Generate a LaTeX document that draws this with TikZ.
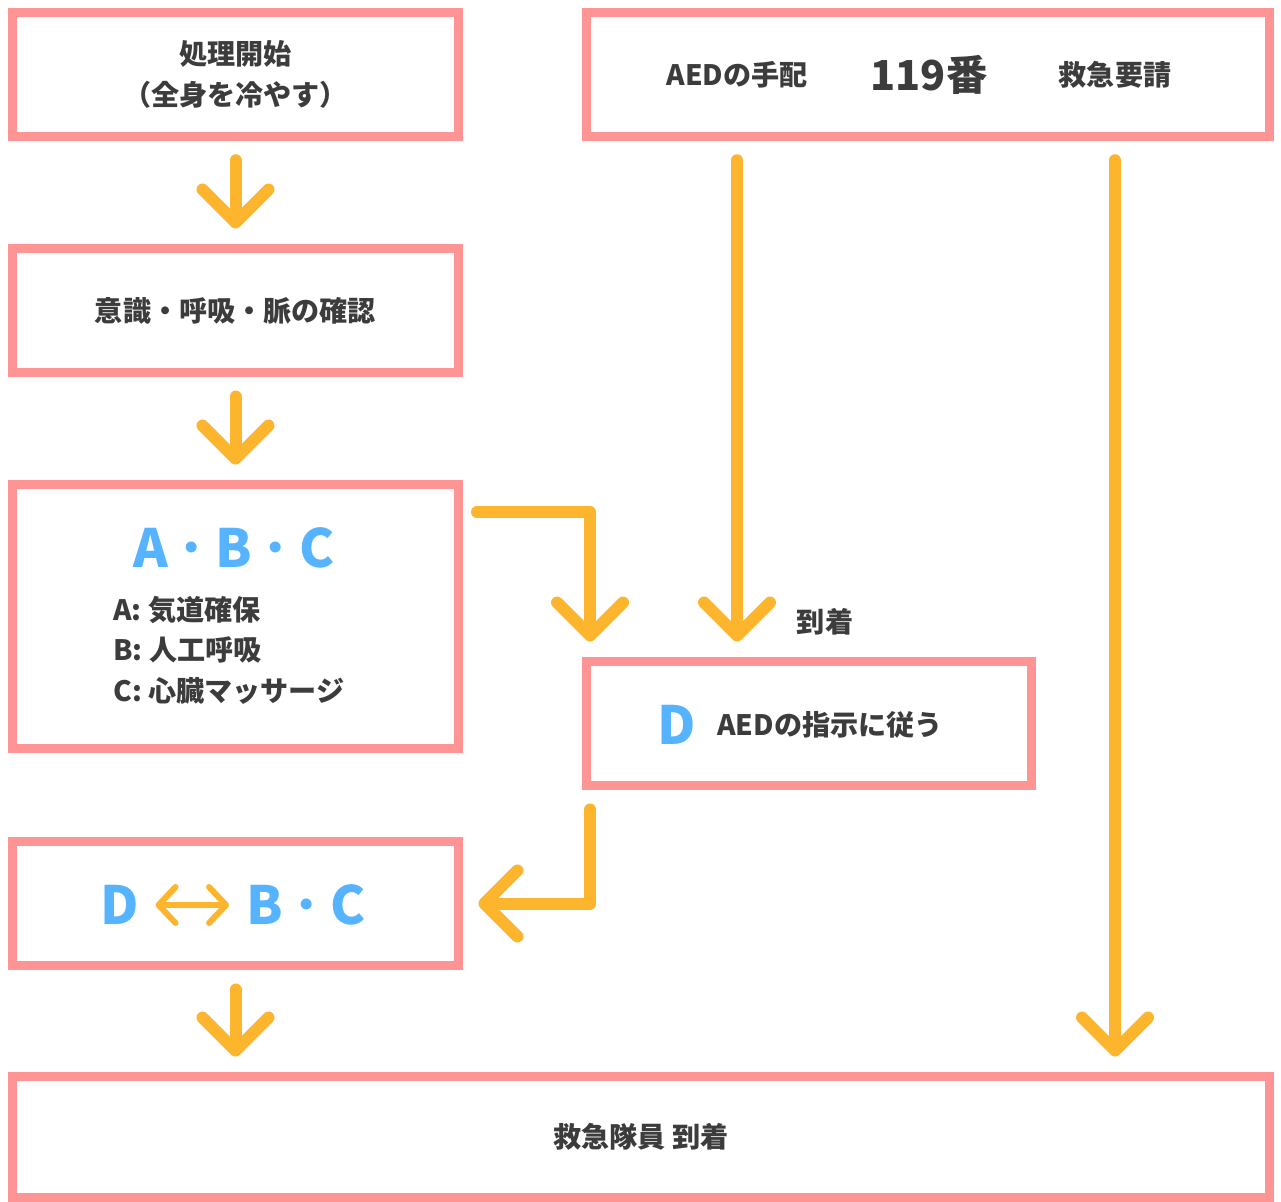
\documentclass[tikz,border=0pt]{standalone}
\usepackage{fontspec}
\setmainfont{Noto Sans CJK JP}
\usetikzlibrary{arrows.meta}

\definecolor{boxpink}{HTML}{FF9494}
\definecolor{floworange}{HTML}{FDB52D}
\definecolor{abcblue}{HTML}{55B3FF}
\definecolor{textgray}{HTML}{3C3C3C}

\newcommand{\middot}{\hspace{0.2em}･\hspace{0.2em}}

\begin{document}
\begin{tikzpicture}[x=0.02cm, y=-0.02cm,
    box/.style={draw=boxpink, line width=0.18cm, outer sep=0pt, inner sep=0pt,
        minimum width=8.92cm, minimum height=2.48cm},
    txt/.style={text=textgray, inner sep=0pt, font=\fontsize{16}{23}\selectfont\bfseries},
    big/.style={text=abcblue, inner sep=0pt, font=\fontsize{30}{30}\selectfont\bfseries},
    flow/.style={draw=floworange, line width=0.24cm, line cap=round, line join=round,
        -{Straight Barb[length=6.6mm, width=13.2mm, round]},
        shorten <=0.48cm, shorten >=0.4cm},
    swap/.style={draw=floworange, line width=0.12cm, line cap=round,
        {Straight Barb[length=3.4mm, width=7.2mm, round]}-{Straight Barb[length=3.4mm, width=7.2mm, round]}}]

    \useasboundingbox (0, 0) rectangle (1281, 1202);

    % Draw the first steps on the left
    \node[box, txt, align=center] (start) at (235.5, 74.25) {処理開始\\（全身を冷やす）};
    \node[box, txt] (check) at (235.5, 310.5) {意識・呼吸・脈の確認};

    % Draw the call box on the top right
    \node[box, minimum width=13.66cm] (call) at (928, 74.25) {};
    \node[txt] (aed) at (737, 75) {AEDの手配};
    \node[txt, font=\fontsize{23.5}{23.5}\selectfont\bfseries] (num) at (929, 75) {119番};
    \node[txt] (request) at (1115, 75) {救急要請};

    % Draw the A, B, C box
    \node[box, minimum height=5.28cm] (abc) at (235.5, 616.5) {};
    \node[big] (abctitle) at (234, 548) {A\middot B\middot C};
    \node[txt, anchor=west, align=left] (abclist) at (113, 650) {A: 気道確保\\B: 人工呼吸\\C: 心臓マッサージ};

    % Draw the AED box
    \node[box, minimum width=8.9cm] (follow) at (809, 723.5) {};
    \node[big] (dletter) at (677, 725) {D};
    \node[txt, anchor=west] (followtext) at (717, 725) {AEDの指示に従う};
    \node[txt] (arrival) at (825, 622) {到着};

    % Draw the D <-> B, C box
    \node[box] (repeat) at (235.5, 903.5) {};
    \node[big] (dleft) at (120, 905) {D};
    \node[big] (bc) at (306, 905) {B\middot C};
    \draw[swap, shorten <=0.32cm, shorten >=0.34cm] (dleft.east) -- (bc.west);

    % Draw the last box
    \node[box, txt, minimum width=25.14cm, minimum height=2.42cm] (arrive) at (641, 1137) {救急隊員 到着};

    % Finally draw the arrows between the boxes
    \draw[flow] (start) -- (check);
    \draw[flow] (check) -- (abc);
    \draw[flow, shorten <=0.37cm] ([yshift=-0.55cm]abc.north east) -| ([xshift=0.07cm]follow.north west);
    \draw[flow] (aed |- call.south) -- (aed |- follow.north);
    \draw[flow] (request |- call.south) -- (request |- arrive.north);
    \draw[flow] ([xshift=0.07cm]follow.south west) |- (repeat.east);
    \draw[flow] (repeat) -- (repeat |- arrive.north);

\end{tikzpicture}
\end{document}
